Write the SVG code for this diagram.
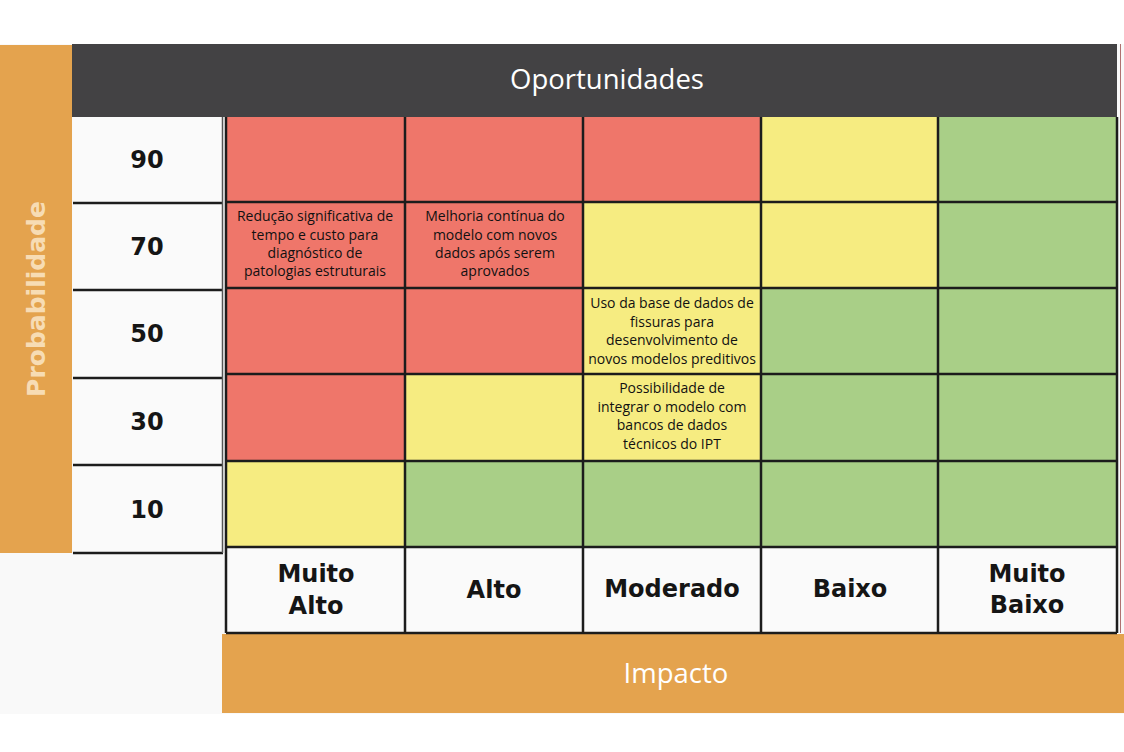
<svg xmlns="http://www.w3.org/2000/svg" width="1124" height="752" viewBox="0 0 1124 752">
<style>
.r{fill:#ef766a}.y{fill:#f6ec81}.g{fill:#a9cf87}.w{fill:#fafafa}
.ln{stroke:#1c1c1c;stroke-width:2.5;fill:none}
.num{font-family:"DejaVu Sans",sans-serif;font-weight:bold;font-size:24px;fill:#151515;text-anchor:middle}
.col{font-family:"DejaVu Sans",sans-serif;font-weight:bold;font-size:24px;fill:#151515;text-anchor:middle}
.ct{font-family:"Open Sans","Noto Sans",sans-serif;font-size:14px;fill:#111;text-anchor:middle}
.ttl{font-family:"Open Sans","Noto Sans",sans-serif;font-size:27.5px;fill:#fff;text-anchor:middle}
</style>
<rect x="0" y="0" width="1124" height="752" fill="#ffffff"/>
<rect x="0" y="44" width="1124" height="670" fill="#f9f9f9"/>
<g id="probabilidade-bar">
<rect x="0" y="45" width="72" height="508" fill="#e4a34e"/>
<text transform="translate(45,299) rotate(-90)" font-family="DejaVu Sans,sans-serif" font-weight="bold" font-size="25" fill="#f7dcb4" text-anchor="middle">Probabilidade</text>
</g>
<g id="header">
<rect x="72" y="44" width="1045" height="73" fill="#434244"/>
<text class="ttl" x="607" y="89">Oportunidades</text>
</g>
<g id="impacto-bar">
<rect x="222" y="634" width="902" height="79" fill="#e4a34e"/>
<text class="ttl" x="676" y="683">Impacto</text>
</g>
<g id="prob-labels">
<rect x="73" y="117" width="150" height="436" class="w"/>
<path class="ln" d="M73,203H223M73,290H223M73,378H223M73,465H223M73,553H223"/>
<path d="M222.5,117V553" stroke="#555" stroke-width="1.5"/>
<text class="num" x="147" y="168">90</text>
<text class="num" x="147" y="255">70</text>
<text class="num" x="147" y="342">50</text>
<text class="num" x="147" y="430">30</text>
<text class="num" x="147" y="518">10</text>
</g>
<g id="matrix">
<rect class="r" x="226" y="117" width="179" height="85"/>
<rect class="r" x="405" y="117" width="178" height="85"/>
<rect class="r" x="583" y="117" width="178" height="85"/>
<rect class="y" x="761" y="117" width="177" height="85"/>
<rect class="g" x="938" y="117" width="179" height="85"/>
<rect class="r" x="226" y="202" width="179" height="86"/>
<rect class="r" x="405" y="202" width="178" height="86"/>
<rect class="y" x="583" y="202" width="178" height="86"/>
<rect class="y" x="761" y="202" width="177" height="86"/>
<rect class="g" x="938" y="202" width="179" height="86"/>
<rect class="r" x="226" y="288" width="179" height="86"/>
<rect class="r" x="405" y="288" width="178" height="86"/>
<rect class="y" x="583" y="288" width="178" height="86"/>
<rect class="g" x="761" y="288" width="177" height="86"/>
<rect class="g" x="938" y="288" width="179" height="86"/>
<rect class="r" x="226" y="374" width="179" height="87"/>
<rect class="y" x="405" y="374" width="178" height="87"/>
<rect class="y" x="583" y="374" width="178" height="87"/>
<rect class="g" x="761" y="374" width="177" height="87"/>
<rect class="g" x="938" y="374" width="179" height="87"/>
<rect class="y" x="226" y="461" width="179" height="86"/>
<rect class="g" x="405" y="461" width="178" height="86"/>
<rect class="g" x="583" y="461" width="178" height="86"/>
<rect class="g" x="761" y="461" width="177" height="86"/>
<rect class="g" x="938" y="461" width="179" height="86"/>
<rect class="w" x="226" y="547" width="891" height="86"/>
<path class="ln" d="M226,117V633M405,117V633M583,117V633M761,117V633M938,117V633M1117,117V633M226,202H1117M226,288H1117M226,374H1117M226,461H1117M226,547H1117M226,633H1117"/>
</g>
<g id="cell-reducao">
<text class="ct" x="315" y="221">Redução significativa de</text>
<text class="ct" x="315" y="240">tempo e custo para</text>
<text class="ct" x="315" y="258">diagnóstico de</text>
<text class="ct" x="315" y="276">patologias estruturais</text>
</g>
<g id="cell-melhoria">
<text class="ct" x="495" y="221">Melhoria contínua do</text>
<text class="ct" x="495" y="240">modelo com novos</text>
<text class="ct" x="495" y="258">dados após serem</text>
<text class="ct" x="495" y="276">aprovados</text>
</g>
<g id="cell-uso">
<text class="ct" x="672" y="308">Uso da base de dados de</text>
<text class="ct" x="672" y="327">fissuras para</text>
<text class="ct" x="672" y="345">desenvolvimento de</text>
<text class="ct" x="672" y="364">novos modelos preditivos</text>
</g>
<g id="cell-possibilidade">
<text class="ct" x="672" y="393">Possibilidade de</text>
<text class="ct" x="672" y="412">integrar o modelo com</text>
<text class="ct" x="672" y="430">bancos de dados</text>
<text class="ct" x="672" y="449">técnicos do IPT</text>
</g>
<g id="impact-labels">
<text class="col" x="316" y="582">Muito</text>
<text class="col" x="316" y="614">Alto</text>
<text class="col" x="494" y="598">Alto</text>
<text class="col" x="672" y="597">Moderado</text>
<text class="col" x="850" y="597">Baixo</text>
<text class="col" x="1027" y="582">Muito</text>
<text class="col" x="1027" y="613">Baixo</text>
</g>
<g id="connectors"></g>
<path d="M1120.5,44V633" stroke="#b07070" stroke-width="1"/>
</svg>
